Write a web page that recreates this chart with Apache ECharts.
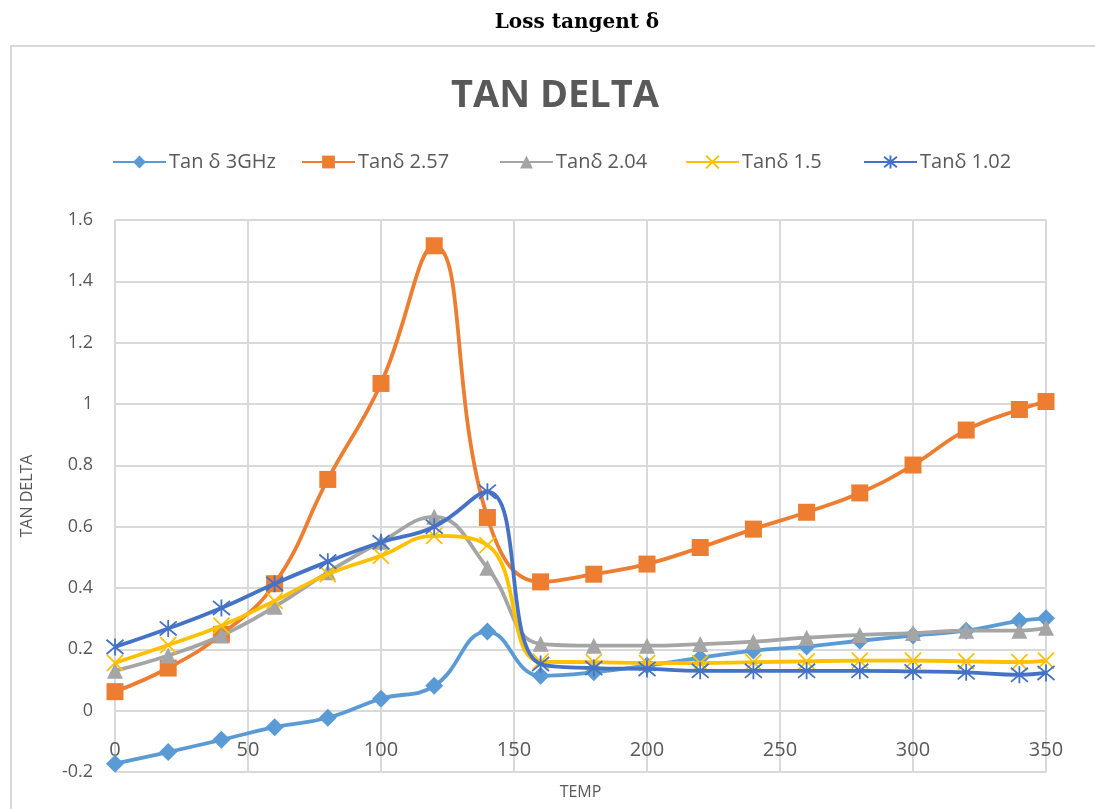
<!DOCTYPE html>
<html>
<head>
<meta charset="utf-8">
<script src="https://cdn.jsdelivr.net/npm/echarts@6/dist/echarts.min.js"></script>
<style>
html,body{margin:0;padding:0;background:#fff;}
#c{width:1095px;height:809px;}
</style>
</head>
<body>
<div id="c"></div>
<script>
const temps = [0,20,40,60,80,100,120,140,160,180,200,220,240,260,280,300,320,340,350];
const tan3GHz = [-0.173,-0.135,-0.095,-0.054,-0.023,0.039,0.081,0.258,0.114,0.125,0.147,0.172,0.196,0.209,0.228,0.245,0.261,0.293,0.301];
const tan257 = [0.062,0.139,0.249,0.414,0.754,1.067,1.516,0.630,0.420,0.445,0.478,0.532,0.592,0.647,0.710,0.801,0.915,0.982,1.008];
const tan204 = [0.130,0.180,0.245,0.339,0.451,0.551,0.632,0.466,0.218,0.212,0.212,0.217,0.225,0.238,0.247,0.253,0.261,0.261,0.270];
const tan15 = [0.156,0.214,0.277,0.358,0.445,0.505,0.570,0.540,0.160,0.158,0.155,0.155,0.158,0.161,0.163,0.163,0.161,0.158,0.163];
const tan102 = [0.208,0.268,0.335,0.414,0.486,0.549,0.600,0.714,0.152,0.139,0.136,0.130,0.130,0.130,0.130,0.128,0.125,0.117,0.123];
const seriesNames = ['Tan δ 3GHz','Tanδ 2.57','Tanδ 2.04','Tanδ 1.5','Tanδ 1.02'];
const seriesData = [tan3GHz, tan257, tan204, tan15, tan102];
const colors = ['#5B9BD5','#ED7D31','#A5A5A5','#FFC000','#4472C4'];
const symbols = ['diamond','rect','triangle','path://M0 0 L10 10 M10 0 L0 10','path://M0 0 L10 10 M10 0 L0 10 M5 -1 L5 11'];
const symbolSizes = [18,17,16,16,17];
const legendLefts = [107, 296, 494, 680, 858];

const chart = echarts.init(document.getElementById('c'));
const series = seriesNames.map((name,i)=>{
  const isStroke = i>=3;
  return {
    name: name,
    type: 'line',
    smooth: 0.45,
    data: temps.map((t,j)=>[t, seriesData[i][j]]),
    symbol: symbols[i],
    symbolSize: symbolSizes[i],
    lineStyle: {color: colors[i], width: 3.8},
    itemStyle: isStroke ? {color: colors[i], borderColor: colors[i], borderWidth: 1.8} : {color: colors[i], borderWidth: 0},
    emphasis: {disabled: true},
    z: 2 + i
  };
});
const legends = seriesNames.map((name,i)=>({
  left: legendLefts[i], top: 147, itemWidth: 53, itemHeight: 16, itemGap: 0,
  textStyle: {fontFamily: 'Open Sans', fontSize: 20, color: '#595959', padding: [0,0,0,-2]},
  data: [name]
}));
chart.setOption({
  animation: false,
  color: colors,
  title: [
    {text: 'Loss tangent δ', left: 572, textAlign: 'center', top: 8,
     textStyle: {fontFamily: 'DejaVu Serif', fontWeight: 'bold', fontSize: 20, color: '#000'}},
    {text: 'TAN DELTA', left: 550, textAlign: 'center', top: 72,
     textStyle: {fontFamily: 'Open Sans', fontWeight: 'bold', fontSize: 38, color: '#595959'}}
  ],
  graphic: [{type: 'rect', shape: {x: 11, y: 46, width: 1100, height: 800}, style: {fill: 'none', stroke: '#d9d9d9', lineWidth: 2}, silent: true}],
  legend: legends,
  grid: {left: 115, right: 49, top: 220, bottom: 37, outerBoundsMode: 'none', containLabel: false},
  xAxis: {
    type: 'value', min: 0, max: 350, interval: 50,
    name: 'TEMP', nameLocation: 'middle', nameGap: 12,
    nameTextStyle: {fontFamily: 'Open Sans', fontSize: 16, color: '#595959', verticalAlign: 'top'},
    axisLine: {show: false, onZero: false},
    axisTick: {show: false},
    axisLabel: {margin: -32, fontFamily: 'Open Sans', fontSize: 20, color: '#595959'},
    splitLine: {show: true, lineStyle: {color: '#d9d9d9', width: 2}}
  },
  yAxis: {
    type: 'value', min: -0.2, max: 1.6, interval: 0.2,
    name: 'TAN DELTA', nameLocation: 'middle', nameGap: 80,
    nameTextStyle: {fontFamily: 'Open Sans', fontSize: 16, color: '#595959'},
    axisLine: {show: false}, axisTick: {show: false},
    axisLabel: {margin: 22, fontFamily: 'Open Sans', fontSize: 18, color: '#595959',
      formatter: v => String(Math.round(v*10)/10)},
    splitLine: {show: true, lineStyle: {color: '#d9d9d9', width: 2}}
  },
  series: series
});
</script>
</body>
</html>
